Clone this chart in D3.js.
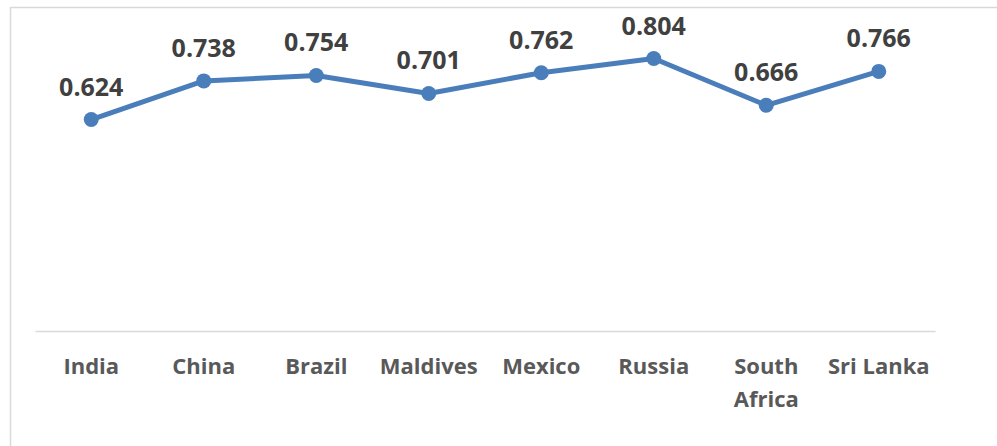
<!DOCTYPE html>
<html>
<head>
<meta charset="utf-8">
<script src="https://cdn.jsdelivr.net/npm/d3@7"></script>
<style>
  body { margin: 0; background: #fff; }
  svg { display: block; font-family: "Open Sans", "DejaVu Sans", sans-serif; }
</style>
</head>
<body>
<div id="chart"></div>
<script>
// data
const countries = ["India", "China", "Brazil", "Maldives", "Mexico", "Russia", "South Africa", "Sri Lanka"];
const hdi = [0.624, 0.738, 0.754, 0.701, 0.762, 0.804, 0.666, 0.766];
const labelLines = [["India"], ["China"], ["Brazil"], ["Maldives"], ["Mexico"], ["Russia"], ["South", "Africa"], ["Sri Lanka"]];

const W = 997, H = 446;
const margin = {top: 26, right: 62, bottom: 115, left: 35};
const width = W - margin.left - margin.right,
      height = H - margin.top - margin.bottom;

const svg = d3.select("#chart")
  .append("svg")
    .attr("width", W)
    .attr("height", H);

// chart border (cropped at right/bottom in the original)
svg.append("rect")
  .attr("x", 10.5).attr("y", 7.5)
  .attr("width", 1000).attr("height", 460)
  .attr("fill", "none")
  .attr("stroke", "#d9d9d9")
  .attr("stroke-width", 1.5);

const g = svg.append("g")
  .attr("transform", `translate(${margin.left},${margin.top})`);

const x = d3.scaleBand()
  .domain(countries)
  .range([0, width]);

const y = d3.scaleLinear()
  .domain([0, 0.9])
  .range([height, 0]);

// x axis
const xAxis = g.append("g")
  .attr("transform", `translate(0,${height})`)
  .call(d3.axisBottom(x).tickSize(0).tickFormat(""));
xAxis.select(".domain")
  .attr("stroke", "#d9d9d9")
  .attr("stroke-width", 1.5);

// category labels (South Africa wraps)
g.selectAll("text.cat")
  .data(countries)
  .join("text")
    .attr("class", "cat")
    .attr("x", d => x(d) + x.bandwidth() / 2)
    .attr("y", height + 43)
    .attr("text-anchor", "middle")
    .attr("fill", "#595959")
    .style("font-size", "22px")
    .style("font-weight", "bold")
  .each(function(d, i) {
    d3.select(this).selectAll("tspan")
      .data(labelLines[i])
      .join("tspan")
        .attr("x", x(d) + x.bandwidth() / 2)
        .attr("dy", (t, j) => j === 0 ? 0 : 33)
        .text(t => t);
  });

const cx = (d, i) => x(countries[i]) + x.bandwidth() / 2;

// line
g.append("path")
  .datum(hdi)
  .attr("fill", "none")
  .attr("stroke", "#4a7ebb")
  .attr("stroke-width", 5)
  .attr("stroke-linejoin", "round")
  .attr("d", d3.line().x(cx).y(d => y(d)));

// markers
g.selectAll("circle")
  .data(hdi)
  .join("circle")
    .attr("cx", cx)
    .attr("cy", d => y(d))
    .attr("r", 7.5)
    .attr("fill", "#4a7ebb");

// value labels
g.selectAll("text.val")
  .data(hdi)
  .join("text")
    .attr("class", "val")
    .attr("x", cx)
    .attr("y", d => y(d) - 24)
    .attr("text-anchor", "middle")
    .attr("fill", "#404040")
    .style("font-size", "25px")
    .style("font-weight", "bold")
    .text(d => d.toFixed(3));
</script>
</body>
</html>
